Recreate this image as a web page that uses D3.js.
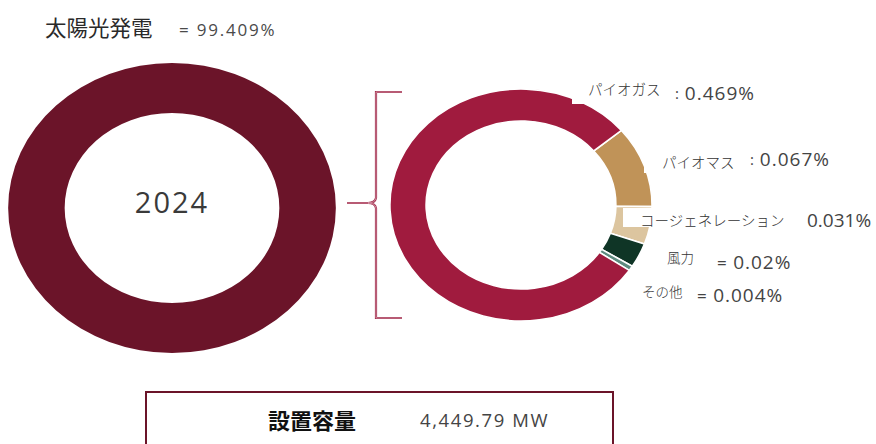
<!DOCTYPE html>
<html>
<head>
<meta charset="utf-8">
<script src="https://cdn.jsdelivr.net/npm/d3@7"></script>
<style>
  body { margin: 0; background: #fff; }
  svg { display: block; }
</style>
</head>
<body>
<svg id="chart" width="876" height="444"></svg>
<script>
// ---- data ----
const year = "2024";
const mainLabel = "太陽光発電";
const mainShare = 99.409;                 // % of installed capacity
const subCategories = ["パイオマス", "コージェネレーション", "風力", "その他", "パイオガス"];
const subShares = [0.067, 0.031, 0.02, 0.004, 0.469]; // % of installed capacity
const subPrefixes = [":", "", "=", "=", ":"];
const capacityLabel = "設置容量";
const capacityMW = 4449.79;

// ---- layout ----
const svg = d3.select("#chart");
const JP = "'Noto Sans CJK JP', 'Noto Sans', sans-serif";
const NUM = "'Open Sans', 'Noto Sans', sans-serif";
const stretch = 1.13;                       // horizontal stretch of both rings

const mainRing = { cx: 172, cy: 208, inner: 95, outer: 145 };
const subRing  = { cx: 521, cy: 205, inner: 84, outer: 116 };

const colorMain = "#6b1429";
const subColors = d3.scaleOrdinal()
  .domain(subCategories)
  .range(["#c09358", "#dcc59f", "#0f3526", "#5f8b80", "#a01b3e"]);

const labelPos = {
  "パイオガス":         { name: [588, 88],    value: [675, 93],    ls: 1,   box: [572, 70, 96, 34] },
  "パイオマス":         { name: [662, 161],   value: [750, 158.5], ls: 1,   box: [644, 140, 100, 33] },
  "コージェネレーション": { name: [640, 219],   value: [807, 219.5], ls: 0,   box: [623, 208, 180, 19] },
  "風力":               { name: [667, 256.5], value: [717, 261.5], ls: 1,   box: null },
  "その他":             { name: [642, 291],   value: [697, 295],   ls: 1,   box: null }
};

// ---- main ring (all sources) ----
const mainTotal = mainShare + d3.sum(subShares);
const mainArc = d3.arc()
  .innerRadius(mainRing.inner).outerRadius(mainRing.outer)
  .startAngle(0)
  .endAngle(2 * Math.PI * mainTotal / 100);

svg.append("path")
  .attr("transform", `translate(${mainRing.cx},${mainRing.cy}) scale(${stretch},1)`)
  .attr("d", mainArc())
  .attr("fill", colorMain);

svg.append("text")
  .attr("x", mainRing.cx)
  .attr("y", 201)
  .attr("text-anchor", "middle")
  .attr("dominant-baseline", "central")
  .attr("font-family", NUM)
  .attr("font-size", 29)
  .attr("letter-spacing", 2)
  .attr("fill", "#3a3a3a")
  .text(year);

// title line
svg.append("text")
  .attr("x", 45).attr("y", 26)
  .attr("dominant-baseline", "central")
  .attr("font-family", JP)
  .attr("font-size", 21.5)
  .attr("fill", "#2a2a2a")
  .text(mainLabel);
svg.append("text")
  .attr("x", 179).attr("y", 29)
  .attr("dominant-baseline", "central")
  .attr("font-family", NUM)
  .attr("font-size", 17)
  .attr("letter-spacing", 1.8)
  .attr("fill", "#4a4a4a")
  .text("= " + mainShare + "%");

// ---- bracket joining the two rings ----
const br = d3.path();
br.moveTo(402, 92);
br.lineTo(376, 92);
br.lineTo(376, 198);
br.quadraticCurveTo(375, 203, 368, 203);
br.quadraticCurveTo(375, 203, 376, 208);
br.lineTo(376, 318);
br.lineTo(402, 318);
br.moveTo(347, 203);
br.lineTo(369, 203);
svg.append("path")
  .attr("d", br.toString())
  .attr("fill", "none")
  .attr("stroke", "#a3304f")
  .attr("stroke-width", 2.2);
svg.append("path")
  .attr("d", br.toString())
  .attr("fill", "none")
  .attr("stroke", "#e9c3cf")
  .attr("stroke-width", 0.6);

// ---- breakdown ring (non-solar sources) ----
const subData = subCategories.map((k, i) => ({ key: k, value: subShares[i], prefix: subPrefixes[i] }));
const a0 = 50 * Math.PI / 180;
const subPie = d3.pie().sort(null).value(d => d.value)
  .startAngle(a0).endAngle(a0 + 2 * Math.PI);
const subArc = d3.arc().innerRadius(subRing.inner).outerRadius(subRing.outer);

svg.append("g")
  .attr("transform", `translate(${subRing.cx},${subRing.cy}) scale(${stretch},1)`)
  .selectAll("path")
  .data(subPie(subData))
  .join("path")
  .attr("d", subArc)
  .attr("fill", d => subColors(d.data.key))
  .attr("stroke", "#fff")
  .attr("stroke-width", 1.6)
  .attr("vector-effect", "non-scaling-stroke");

// white label plates that sit over the ring edge
svg.append("g")
  .selectAll("rect")
  .data(subData.filter(d => labelPos[d.key].box))
  .join("rect")
  .attr("x", d => labelPos[d.key].box[0])
  .attr("y", d => labelPos[d.key].box[1])
  .attr("width", d => labelPos[d.key].box[2])
  .attr("height", d => labelPos[d.key].box[3])
  .attr("fill", "#fff");

const labels = svg.append("g");
labels.selectAll("text.name")
  .data(subData)
  .join("text")
  .attr("class", "name")
  .attr("x", d => labelPos[d.key].name[0])
  .attr("y", d => labelPos[d.key].name[1])
  .attr("dominant-baseline", "central")
  .attr("font-family", JP)
  .attr("font-weight", 300)
  .attr("font-size", d => d.key === "風力" || d.key === "その他" ? 13.5 : 14.5)
  .attr("fill", "#333")
  .text(d => d.key);

const vals = labels.selectAll("text.val")
  .data(subData)
  .join("text")
  .attr("class", "val")
  .attr("x", d => labelPos[d.key].value[0])
  .attr("y", d => labelPos[d.key].value[1])
  .attr("dominant-baseline", "central")
  .attr("font-family", NUM)
  .attr("font-size", 19)
  .attr("letter-spacing", d => labelPos[d.key].ls)
  .attr("fill", "#444");
vals.filter(d => d.prefix)
  .append("tspan")
  .attr("font-size", d => d.prefix === ":" ? 15 : 17)
  .text(d => d.prefix + " ");
vals.append("tspan").text(d => d.value + "%");

// ---- capacity box ----
svg.append("rect")
  .attr("x", 146).attr("y", 392)
  .attr("width", 467).attr("height", 70)
  .attr("fill", "none")
  .attr("stroke", colorMain)
  .attr("stroke-width", 2);
svg.append("text")
  .attr("x", 268).attr("y", 419)
  .attr("dominant-baseline", "central")
  .attr("font-family", JP)
  .attr("font-weight", 700)
  .attr("font-size", 22)
  .attr("fill", "#111")
  .text(capacityLabel);
svg.append("text")
  .attr("x", 420).attr("y", 419)
  .attr("dominant-baseline", "central")
  .attr("font-family", NUM)
  .attr("font-size", 18.5)
  .attr("letter-spacing", 1.6)
  .attr("fill", "#444")
  .text(d3.format(",.2f")(capacityMW) + " MW");
</script>
</body>
</html>
